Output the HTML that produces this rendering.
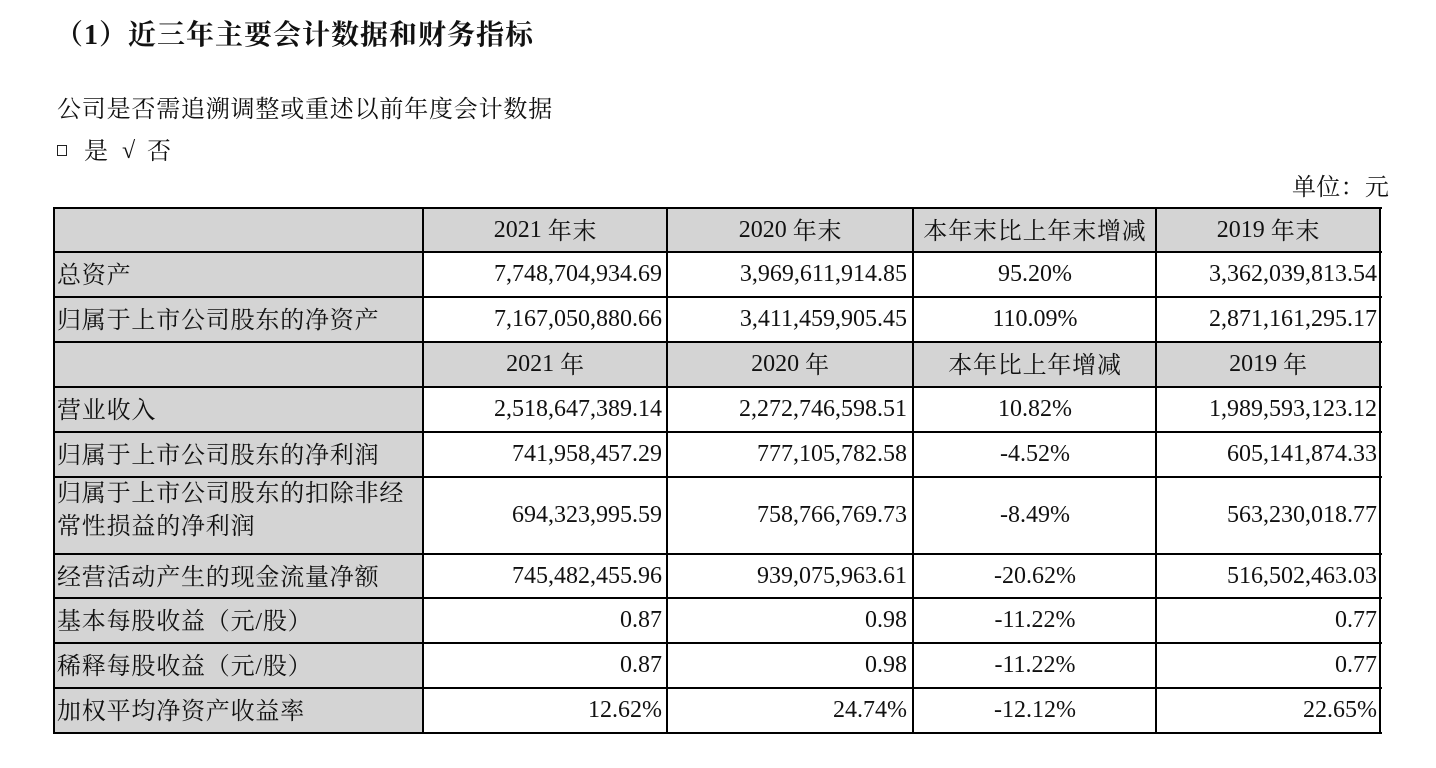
<!DOCTYPE html>
<html><head><meta charset="utf-8">
<style>
html,body{margin:0;padding:0;background:#fff;}
body{width:1436px;height:768px;position:relative;overflow:hidden;font-family:"Liberation Serif","Noto Serif CJK SC",serif;color:#111;}
.a{position:absolute;white-space:nowrap;}
.t{font-size:24px;}
.g{position:absolute;background:#d4d4d4;}
.h{position:absolute;height:2px;background:#000;left:53px;width:1329px;}
.v{position:absolute;width:2px;background:#000;top:207px;height:527px;}
.c{position:absolute;font-size:24px;white-space:nowrap;}
.l{left:57px;letter-spacing:0.8px;margin-top:2px;}
.r1{left:424px;width:238px;text-align:right;}
.r2{left:668px;width:239px;text-align:right;}
.p{left:914px;width:242px;text-align:center;}
.r4{left:1157px;width:220px;text-align:right;}
.c1{left:424px;width:243px;text-align:center;}
.c2{left:668px;width:245px;text-align:center;}
.c4{left:1157px;width:223px;text-align:center;}
.k{letter-spacing:0.8px;position:relative;top:2px;}
.h0{top:208px;height:44px;line-height:44px;}
.h1{top:252px;height:45px;line-height:45px;}
.h2{top:297px;height:45px;line-height:45px;}
.h3{top:342px;height:45px;line-height:45px;}
.h4{top:387px;height:45px;line-height:45px;}
.h5{top:432px;height:45px;line-height:45px;}
.h6{top:477px;height:77px;line-height:77px;}
.h7{top:554px;height:44px;line-height:44px;}
.h8{top:598px;height:45px;line-height:45px;}
.h9{top:643px;height:45px;line-height:45px;}
.h10{top:688px;height:45px;line-height:45px;}
</style></head><body>

<div class="a" style="left:55px;top:18px;font-size:28px;font-weight:bold;letter-spacing:1px;line-height:36px;">（1）近三年主要会计数据和财务指标</div>
<div class="a t" style="left:57px;top:96px;line-height:28px;letter-spacing:0.8px;">公司是否需追溯调整或重述以前年度会计数据</div>
<div class="a" style="left:57px;top:145px;width:8px;height:9px;border:1px solid #222;"></div>
<div class="a t" style="left:84px;top:138px;line-height:28px;">是</div>
<div class="a t" style="left:122px;top:137px;line-height:28px;">√</div>
<div class="a t" style="left:147px;top:138px;line-height:28px;">否</div>
<div class="a t" style="left:1292px;top:174px;line-height:28px;letter-spacing:0.3px;">单位：元</div>

<!-- gray backgrounds -->
<div class="g" style="left:54px;top:208px;width:370px;height:526px;"></div>
<div class="g" style="left:54px;top:208px;width:1326px;height:44px;"></div>
<div class="g" style="left:54px;top:342px;width:1326px;height:45px;"></div>

<!-- horizontal lines -->
<div class="h" style="top:207px"></div>
<div class="h" style="top:251px"></div>
<div class="h" style="top:296px"></div>
<div class="h" style="top:341px"></div>
<div class="h" style="top:386px"></div>
<div class="h" style="top:431px"></div>
<div class="h" style="top:476px"></div>
<div class="h" style="top:553px"></div>
<div class="h" style="top:597px"></div>
<div class="h" style="top:642px"></div>
<div class="h" style="top:687px"></div>
<div class="h" style="top:732px"></div>
<!-- vertical lines -->
<div class="v" style="left:53px"></div>
<div class="v" style="left:422px"></div>
<div class="v" style="left:666px"></div>
<div class="v" style="left:912px"></div>
<div class="v" style="left:1155px"></div>
<div class="v" style="left:1379px"></div>

<!-- row 0 header -->
<div class="c c1 h0">2021 <span class="k">年末</span></div>
<div class="c c2 h0">2020 <span class="k">年末</span></div>
<div class="c p h0"><span class="k">本年末比上年末增减</span></div>
<div class="c c4 h0">2019 <span class="k">年末</span></div>

<!-- row 1 -->
<div class="c l h1">总资产</div>
<div class="c r1 h1">7,748,704,934.69</div>
<div class="c r2 h1">3,969,611,914.85</div>
<div class="c p h1">95.20%</div>
<div class="c r4 h1">3,362,039,813.54</div>

<!-- row 2 -->
<div class="c l h2">归属于上市公司股东的净资产</div>
<div class="c r1 h2">7,167,050,880.66</div>
<div class="c r2 h2">3,411,459,905.45</div>
<div class="c p h2">110.09%</div>
<div class="c r4 h2">2,871,161,295.17</div>

<!-- row 3 header -->
<div class="c c1 h3">2021 <span class="k">年</span></div>
<div class="c c2 h3">2020 <span class="k">年</span></div>
<div class="c p h3"><span class="k">本年比上年增减</span></div>
<div class="c c4 h3">2019 <span class="k">年</span></div>

<!-- row 4 -->
<div class="c l h4">营业收入</div>
<div class="c r1 h4">2,518,647,389.14</div>
<div class="c r2 h4">2,272,746,598.51</div>
<div class="c p h4">10.82%</div>
<div class="c r4 h4">1,989,593,123.12</div>

<!-- row 5 -->
<div class="c l h5">归属于上市公司股东的净利润</div>
<div class="c r1 h5">741,958,457.29</div>
<div class="c r2 h5">777,105,782.58</div>
<div class="c p h5">-4.52%</div>
<div class="c r4 h5">605,141,874.33</div>

<!-- row 6 double -->
<div class="a t" style="left:57px;top:478px;line-height:33px;letter-spacing:0.8px;">归属于上市公司股东的扣除非经<br>常性损益的净利润</div>
<div class="c r1 h6">694,323,995.59</div>
<div class="c r2 h6">758,766,769.73</div>
<div class="c p h6">-8.49%</div>
<div class="c r4 h6">563,230,018.77</div>

<!-- row 7 -->
<div class="c l h7">经营活动产生的现金流量净额</div>
<div class="c r1 h7">745,482,455.96</div>
<div class="c r2 h7">939,075,963.61</div>
<div class="c p h7">-20.62%</div>
<div class="c r4 h7">516,502,463.03</div>

<!-- row 8 -->
<div class="c l h8">基本每股收益（元/股）</div>
<div class="c r1 h8">0.87</div>
<div class="c r2 h8">0.98</div>
<div class="c p h8">-11.22%</div>
<div class="c r4 h8">0.77</div>

<!-- row 9 -->
<div class="c l h9">稀释每股收益（元/股）</div>
<div class="c r1 h9">0.87</div>
<div class="c r2 h9">0.98</div>
<div class="c p h9">-11.22%</div>
<div class="c r4 h9">0.77</div>

<!-- row 10 -->
<div class="c l h10">加权平均净资产收益率</div>
<div class="c r1 h10">12.62%</div>
<div class="c r2 h10">24.74%</div>
<div class="c p h10">-12.12%</div>
<div class="c r4 h10">22.65%</div>

</body></html>
